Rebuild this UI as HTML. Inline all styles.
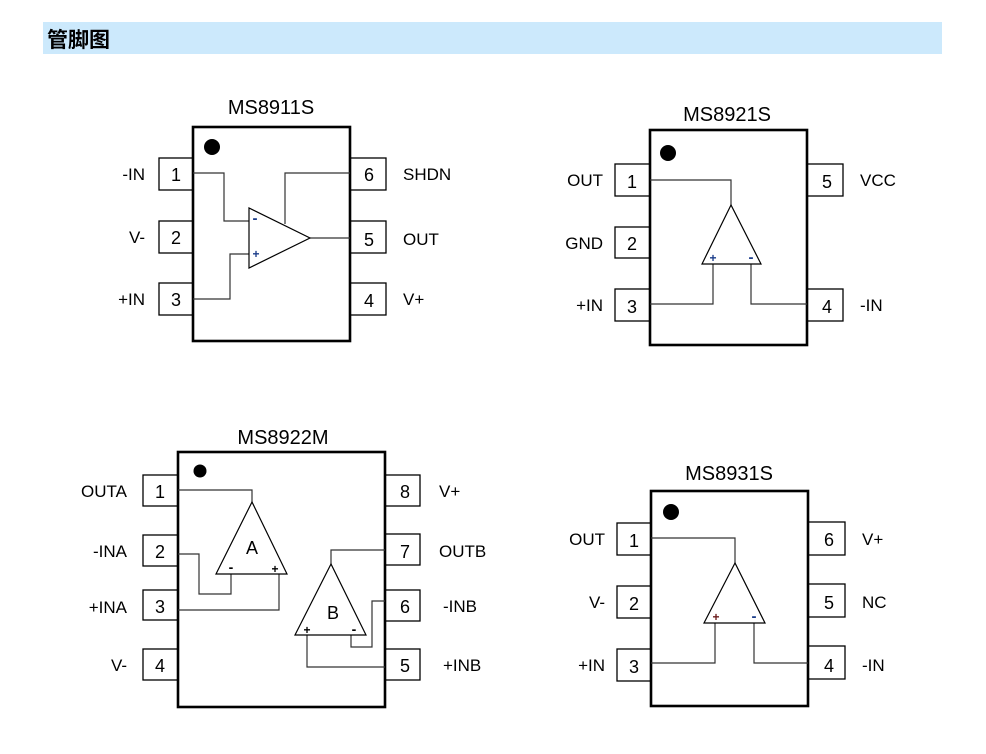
<!DOCTYPE html>
<html><head><meta charset="utf-8"><style>
html,body{margin:0;padding:0;background:#fff;width:986px;height:754px;overflow:hidden}
svg{display:block}
text{font-family:"Liberation Sans","Noto Sans CJK SC",sans-serif;fill:#000}
.p{fill:#fff;stroke:#000;stroke-width:1.3}
.b{fill:#fff;stroke:#000;stroke-width:2.6}
.w{fill:none;stroke:#333;stroke-width:1.2}
.t{fill:#fff;stroke:#000;stroke-width:1.2}
.n{font-size:18px;text-anchor:middle}
.l{font-size:17px}
.r{font-size:17px;text-anchor:end}
.h{font-size:20px;text-anchor:middle}
.s{font-size:12px;text-anchor:middle;fill:#1a3c8a;font-weight:bold}
</style></head><body>
<svg width="986" height="754" viewBox="0 0 986 754">
<rect x="43" y="22" width="899" height="32" fill="#cce9fc"/>
<text x="47" y="47" style="font-size:21px;font-weight:bold;font-family:'Noto Sans CJK SC',sans-serif">管脚图</text>

<!-- MS8911S -->
<text class="h" x="271" y="114">MS8911S</text>
<rect class="p" x="159" y="158" width="34" height="32"/>
<rect class="p" x="159" y="221" width="34" height="32"/>
<rect class="p" x="159" y="283" width="34" height="32"/>
<rect class="p" x="350" y="158" width="36" height="32"/>
<rect class="p" x="350" y="221" width="36" height="32"/>
<rect class="p" x="350" y="283" width="36" height="32"/>
<rect class="b" x="193" y="127" width="157" height="214"/>
<circle cx="212" cy="147" r="8" fill="#000"/>
<polyline class="w" points="193,173 224,173 224,221 249,221"/>
<polyline class="w" points="193,299 230,299 230,254 249,254"/>
<polyline class="w" points="350,173 285,173 285,224"/>
<line class="w" x1="310" y1="238" x2="350" y2="238"/>
<polygon class="t" points="249,208 249,268 310,238"/>
<text class="s" x="255" y="223" style="font-size:15px">-</text>
<text class="s" x="256" y="258">+</text>
<text class="n" x="176" y="181">1</text><text class="n" x="176" y="244">2</text><text class="n" x="176" y="306">3</text>
<text class="n" x="369" y="181">6</text><text class="n" x="369" y="246">5</text><text class="n" x="369" y="307">4</text>
<text class="r" x="145" y="180">-IN</text><text class="r" x="145" y="243">V-</text><text class="r" x="145" y="305">+IN</text>
<text class="l" x="403" y="180">SHDN</text><text class="l" x="403" y="245">OUT</text><text class="l" x="403" y="305">V+</text>

<!-- MS8921S -->
<text class="h" x="727" y="121">MS8921S</text>
<rect class="p" x="615" y="164" width="35" height="32"/>
<rect class="p" x="615" y="227" width="35" height="31"/>
<rect class="p" x="615" y="289" width="35" height="32"/>
<rect class="p" x="807" y="164" width="36" height="32"/>
<rect class="p" x="807" y="289" width="36" height="32"/>
<rect class="b" x="650" y="130" width="157" height="215"/>
<circle cx="668" cy="153" r="8" fill="#000"/>
<polyline class="w" points="650,180 731,180 731,205"/>
<polyline class="w" points="713,264 713,304 650,304"/>
<polyline class="w" points="751,264 751,304 807,304"/>
<polygon class="t" points="731,205 702,264 761,264"/>
<text class="s" x="713" y="262">+</text><text class="s" x="751" y="262" style="font-size:15px">-</text>
<text class="n" x="632" y="188">1</text><text class="n" x="632" y="250">2</text><text class="n" x="632" y="313">3</text>
<text class="n" x="827" y="188">5</text><text class="n" x="827" y="313">4</text>
<text class="r" x="603" y="186">OUT</text><text class="r" x="603" y="249">GND</text><text class="r" x="603" y="311">+IN</text>
<text class="l" x="860" y="186">VCC</text><text class="l" x="860" y="311">-IN</text>

<!-- MS8922M -->
<text class="h" x="283" y="444">MS8922M</text>
<rect class="p" x="143" y="475" width="35" height="31"/>
<rect class="p" x="143" y="535" width="35" height="31"/>
<rect class="p" x="143" y="590" width="35" height="30"/>
<rect class="p" x="143" y="649" width="35" height="31"/>
<rect class="p" x="385" y="475" width="35" height="31"/>
<rect class="p" x="385" y="534" width="35" height="31"/>
<rect class="p" x="385" y="590" width="35" height="31"/>
<rect class="p" x="385" y="649" width="35" height="31"/>
<rect class="b" x="178" y="452" width="207" height="255"/>
<circle cx="200" cy="471" r="6.5" fill="#000"/>
<polyline class="w" points="178,490 252,490 252,502"/>
<polyline class="w" points="178,554 199,554 199,594 231,594 231,574"/>
<polyline class="w" points="178,610 279,610 279,574"/>
<polyline class="w" points="385,550 331,550 331,564"/>
<polyline class="w" points="385,601 372,601 372,647 351,647 351,635"/>
<polyline class="w" points="385,667 307,667 307,635"/>
<polygon class="t" points="252,502 216,574 287,574"/>
<polygon class="t" points="331,564 295,635 366,635"/>
<text class="n" x="252" y="554">A</text><text class="n" x="333" y="619">B</text>
<text class="s" x="231" y="572" style="font-size:14px;fill:#000">-</text><text class="s" x="275" y="573" style="fill:#000">+</text>
<text class="s" x="307" y="634" style="fill:#000">+</text><text class="s" x="354" y="634" style="font-size:14px;fill:#000">-</text>
<text class="n" x="160" y="498">1</text><text class="n" x="160" y="558">2</text><text class="n" x="160" y="613">3</text><text class="n" x="160" y="672">4</text>
<text class="n" x="405" y="498">8</text><text class="n" x="405" y="558">7</text><text class="n" x="405" y="613">6</text><text class="n" x="405" y="672">5</text>
<text class="r" x="127" y="497">OUTA</text><text class="r" x="127" y="557">-INA</text><text class="r" x="127" y="613">+INA</text><text class="r" x="127" y="671">V-</text>
<text class="l" x="439" y="497">V+</text><text class="l" x="439" y="557">OUTB</text><text class="l" x="443" y="612">-INB</text><text class="l" x="443" y="671">+INB</text>

<!-- MS8931S -->
<text class="h" x="729" y="480">MS8931S</text>
<rect class="p" x="617" y="523" width="34" height="32"/>
<rect class="p" x="617" y="586" width="34" height="32"/>
<rect class="p" x="617" y="649" width="34" height="32"/>
<rect class="p" x="808" y="522" width="37" height="33"/>
<rect class="p" x="808" y="584" width="37" height="33"/>
<rect class="p" x="808" y="646" width="37" height="33"/>
<rect class="b" x="651" y="491" width="157" height="215"/>
<circle cx="671" cy="512" r="8" fill="#000"/>
<polyline class="w" points="651,538 735,538 735,563"/>
<polyline class="w" points="715,623 715,663 651,663"/>
<polyline class="w" points="754,623 754,663 808,663"/>
<polygon class="t" points="735,563 704,623 765,623"/>
<text class="s" x="716" y="621" style="fill:#6a1a1a">+</text><text class="s" x="754" y="621" style="font-size:15px">-</text>
<text class="n" x="634" y="547">1</text><text class="n" x="634" y="610">2</text><text class="n" x="634" y="673">3</text>
<text class="n" x="829" y="546">6</text><text class="n" x="829" y="609">5</text><text class="n" x="829" y="672">4</text>
<text class="r" x="605" y="545">OUT</text><text class="r" x="605" y="608">V-</text><text class="r" x="605" y="671">+IN</text>
<text class="l" x="862" y="545">V+</text><text class="l" x="862" y="608">NC</text><text class="l" x="862" y="671">-IN</text>
</svg>
</body></html>
